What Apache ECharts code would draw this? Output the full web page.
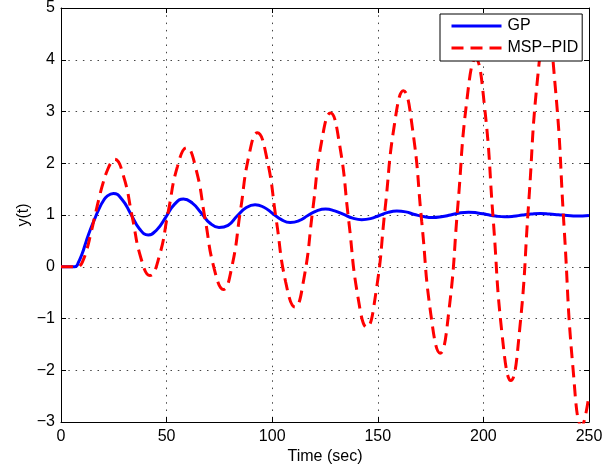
<!DOCTYPE html>
<html>
<head>
<meta charset="utf-8">
<script src="https://cdn.jsdelivr.net/npm/echarts@6/dist/echarts.min.js"></script>
<style>
html,body{margin:0;padding:0;background:#fff;}
#chart{width:616px;height:472px;}
</style>
</head>
<body>
<div id="chart"></div>
<script>
// GP response (time in sec, value)
var gpTime  = [0, 6.5, 7.5, 8, 10, 12, 14, 16, 18, 20, 22, 24.8,
  28.9, 33.05, 37.2, 41.3, 45.5, 49.65, 53.8, 58.0, 62.2, 66.4, 70.6, 74.8,
  79.1, 83.35, 87.6, 91.9, 96.05, 100.2, 104.35, 108.5, 112.7, 116.9, 121.1, 125.3,
  129.6, 133.85, 138.1, 142.4, 146.55, 150.7, 154.85, 159.0, 163.2, 167.4, 171.6, 175.8,
  180.1, 184.4, 188.7, 193.0, 197.25, 201.5, 205.75, 210.0, 214.25, 218.5, 222.75, 227.0,
  231.25, 235.5, 239.75, 244.0, 250];
var gpValue = [0, 0, 0.02, 0.06, 0.25, 0.5, 0.73, 0.93, 1.12, 1.27, 1.37, 1.415,
  1.30, 1.02, 0.73, 0.615, 0.72, 0.96, 1.21, 1.31, 1.23, 1.04, 0.84, 0.76,
  0.80, 0.98, 1.14, 1.20, 1.15, 1.03, 0.91, 0.855, 0.89, 0.99, 1.08, 1.115,
  1.08, 1.01, 0.94, 0.91, 0.93, 0.99, 1.05, 1.075, 1.06, 1.01, 0.97, 0.95,
  0.965, 1.00, 1.04, 1.055, 1.04, 1.01, 0.98, 0.965, 0.975, 1.00, 1.02, 1.03,
  1.02, 1.005, 0.99, 0.98, 0.99];

// MSP-PID response
var pidTime  = [0, 8, 9, 10, 12, 14, 16, 18, 20, 22, 24, 25.4,
  29.6, 33.75, 37.9, 42.1, 46.45, 50.8, 55.15, 59.5, 63.85, 68.2, 72.55, 76.9,
  80.9, 84.95, 89.0, 93.0, 97.45, 101.9, 106.35, 110.8, 115.0, 119.2, 123.4, 127.6,
  131.9, 136.2, 140.5, 144.8, 149.1, 153.45, 157.8, 162.1, 166.45, 170.8, 175.15, 179.5,
  183.7, 187.9, 192.1, 196.3, 200.5, 204.65, 208.8, 213.0, 217.2, 221.4, 225.6, 229.8,
  234.0, 238.2, 242.4, 246.6, 250];
var pidValue = [0, 0, 0.02, 0.08, 0.3, 0.62, 0.97, 1.32, 1.63, 1.87, 2.03, 2.08,
  1.75, 0.96, 0.16, -0.17, 0.19, 1.07, 1.94, 2.30, 1.90, 0.93, -0.04, -0.44,
  0.00, 1.08, 2.15, 2.59, 2.10, 0.91, -0.29, -0.78, -0.23, 1.10, 2.42, 2.97,
  2.36, 0.90, -0.56, -1.17, -0.50, 1.12, 2.73, 3.40, 2.66, 0.87, -0.93, -1.67,
  -0.84, 1.18, 3.19, 4.02, 3.11, 0.91, -1.29, -2.20, -1.20, 1.21, 3.62, 4.62,
  3.49, 0.77, -1.95, -3.08, -2.48];

var xTicks = [0, 50, 100, 150, 200, 250];
var yTicks = [-3, -2, -1, 0, 1, 2, 3, 4, 5];

function pairs(t, v) {
  var out = [];
  for (var i = 0; i < t.length; i++) out.push([t[i], v[i]]);
  return out;
}

var FONT = 'Liberation Sans, Arial, Helvetica, sans-serif';
var labelFmt = function (v) { return String(v).replace('-', '\u2212'); };

var chart = echarts.init(document.getElementById('chart'));
var axisLine = { show: true, onZero: false, lineStyle: { color: '#000', width: 1 } };
var tick = { show: true, inside: true, length: 5, lineStyle: { color: '#000' } };
var gridLine = { show: true, lineStyle: { color: '#444', width: 1, type: [1.5, 5.8] } };

chart.setOption({
  animation: false,
  backgroundColor: '#fff',
  grid: { left: 61, right: 27, top: 6, bottom: 50 },
  legend: {
    show: true,
    left: 440, top: 14,
    z: 10,
    orient: 'vertical',
    backgroundColor: '#fff',
    borderColor: '#000',
    borderWidth: 1,
    borderRadius: 0,
    padding: [4, 4, 5, 10],
    itemGap: 6,
    itemWidth: 50,
    itemHeight: 14,
    itemStyle: { opacity: 0 },
    lineStyle: { width: 3 },
    textStyle: { fontFamily: FONT, fontSize: 16, color: '#000', padding: [0, 0, 0, 1] },
    data: ['GP', 'MSP\u2212PID']
  },
  xAxis: [{
    type: 'value', min: xTicks[0], max: xTicks[xTicks.length - 1], interval: 50,
    name: 'Time (sec)', nameLocation: 'middle', nameGap: 27, nameMoveOverlap: false,
    nameTextStyle: { fontFamily: FONT, fontSize: 16, color: '#000' },
    axisLine: axisLine, axisTick: tick,
    axisLabel: { fontFamily: FONT, fontSize: 16, color: '#000', margin: 7, formatter: labelFmt },
    splitLine: gridLine
  }, {
    type: 'value', min: 0, max: 250, interval: 50, position: 'top',
    axisLine: axisLine, axisTick: tick,
    axisLabel: { show: false }, splitLine: { show: false }
  }],
  yAxis: [{
    type: 'value', min: yTicks[0], max: yTicks[yTicks.length - 1], interval: 1,
    name: 'y(t)', nameLocation: 'middle', nameGap: 29, nameMoveOverlap: false,
    nameTextStyle: { fontFamily: FONT, fontSize: 16, color: '#000' },
    axisLine: axisLine, axisTick: tick,
    axisLabel: { fontFamily: FONT, fontSize: 16, color: '#000', margin: 6, formatter: labelFmt },
    splitLine: gridLine
  }, {
    type: 'value', min: -3, max: 5, interval: 1, position: 'right',
    axisLine: axisLine, axisTick: tick,
    axisLabel: { show: false }, splitLine: { show: false }
  }],
  series: [{
    name: 'GP', type: 'line', xAxisIndex: 0, yAxisIndex: 0,
    data: pairs(gpTime, gpValue),
    smooth: 0.5, showSymbol: false, symbol: 'none',
    lineStyle: { color: '#0000ff', width: 3 },
    itemStyle: { color: '#0000ff' }, z: 2
  }, {
    name: 'MSP\u2212PID', type: 'line', xAxisIndex: 0, yAxisIndex: 0,
    data: pairs(pidTime, pidValue),
    smooth: 0.5, showSymbol: false, symbol: 'none', clip: true,
    lineStyle: { color: '#ff0000', width: 3, type: [12, 7] },
    itemStyle: { color: '#ff0000' }, z: 3
  }]
});
</script>
</body>
</html>
